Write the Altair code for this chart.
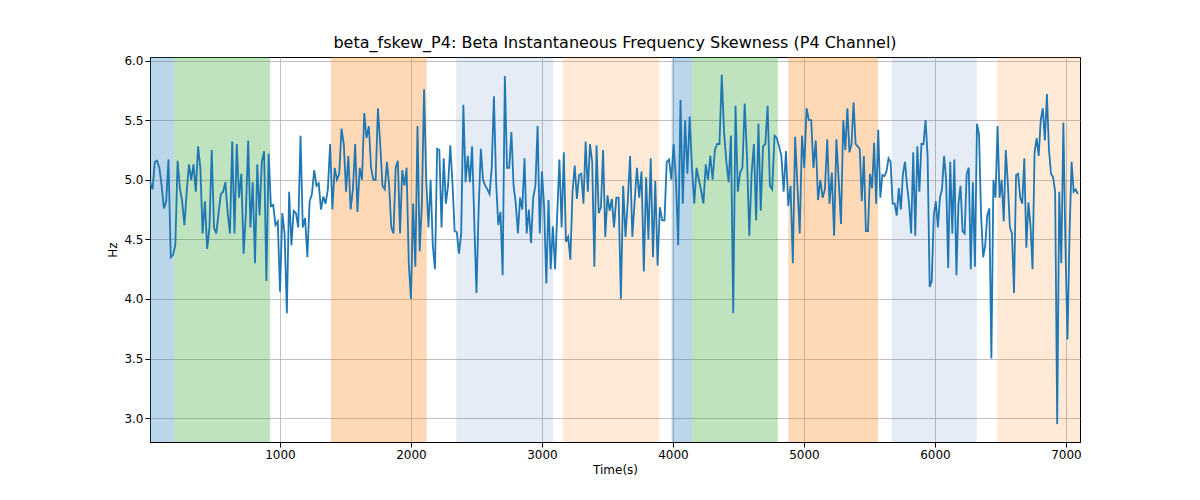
import altair as alt
import numpy as np
import pandas as pd

# signal, in four stretches of time
seg1 = [4.98, 4.92, 5.15, 5.16, 5.1, 4.95, 4.76, 4.82, 5.17, 4.35, 4.37, 4.45, 5.16, 4.93, 4.82, 4.62, 4.9, 5.13, 5.0, 5.13,
        4.9, 5.28, 5.1, 4.55, 4.82, 4.42, 4.6, 5.25, 4.6, 4.55, 4.72, 4.88, 4.9, 4.98, 4.72, 4.55, 5.32, 4.55, 5.3, 4.85,
        5.05, 4.38, 4.72, 5.33, 4.6, 4.98, 4.3, 5.13, 4.7, 5.15, 5.24, 4.15, 5.22, 4.78, 4.79, 4.62, 4.65, 4.06, 4.72, 4.55,
        3.88, 4.9, 4.45, 4.74, 4.72, 4.6, 5.37, 4.6, 4.68, 4.35, 4.82, 4.88, 5.08, 4.95, 4.97, 4.75, 4.86, 4.8, 4.92, 5.3,
        4.75, 5.1, 5.0, 5.05, 5.43, 5.3, 4.9, 5.2, 4.75, 4.92, 5.3, 4.73, 5.1, 5.0, 5.56, 5.35, 5.45, 5.1, 5.0, 5.0, 5.6, 5.3, 4.95]
seg2 = [4.92, 5.15, 4.95, 4.6, 4.55, 5.1, 5.16, 4.55, 5.08, 4.95, 5.1, 4.3, 4.0, 4.8, 4.27, 5.45, 4.4, 4.8, 5.76, 5.0,
        4.6, 5.0, 4.45, 4.25, 5.26, 5.25, 4.6, 5.18, 4.8, 4.95, 5.29, 4.98, 4.57, 4.56, 4.38, 4.55, 5.63, 4.98, 5.2, 4.98,
        5.28, 4.65, 4.05, 4.75, 5.26, 5.0, 4.95, 4.92, 4.88, 5.1, 5.7, 4.98, 4.62, 4.73, 4.2, 5.87, 5.1, 5.1, 5.4, 4.95,
        4.8, 4.55, 4.85, 4.75, 5.18, 4.55, 4.75, 4.47, 4.85, 4.95, 5.45, 4.55, 5.07, 4.77, 4.13, 4.83, 4.25, 4.61, 4.25, 4.72,
        5.17, 4.6, 5.23, 4.48, 4.52, 4.33, 4.9, 5.12, 4.84, 5.04, 5.05, 4.8, 5.32, 4.9, 5.3, 5.15, 4.27, 5.29, 4.72, 4.77,
        5.25, 4.52, 4.87, 4.74, 4.84]
seg3 = [4.6, 4.85, 4.85, 4.0, 4.95, 4.52, 4.82, 5.2, 4.52, 4.82, 5.1, 4.85, 5.07, 4.23, 5.02, 4.5, 5.18, 4.35, 4.99, 4.28,
        4.77, 4.66, 4.66, 5.15, 5.17, 5.0, 5.3, 5.0, 4.45, 5.67, 4.8, 5.5, 5.05, 5.53, 5.1, 4.8, 5.1, 5.0, 4.91, 4.8,
        5.13, 5.0, 5.2, 5.0, 5.25, 5.3, 5.3, 5.88, 5.4, 5.15, 4.98, 5.37, 3.88, 5.62, 4.9, 5.06, 5.1, 5.64, 5.2, 4.53,
        5.05, 5.3, 4.66, 5.47, 4.74, 5.28, 5.3, 5.62, 4.95, 4.92, 5.37, 5.35, 5.28, 5.2, 4.9, 5.24, 4.78, 4.95, 4.3, 5.36,
        4.95, 4.55, 5.37, 5.1, 5.6, 5.5, 5.5, 5.1, 5.33, 4.83, 5.0, 4.85, 4.92, 5.34, 4.8, 5.06, 4.53, 5.34, 5.0, 4.63]
seg4 = [5.5, 5.25, 5.6, 5.23, 5.3, 5.65, 5.3, 5.28, 5.26, 4.82, 5.2, 4.57, 4.57, 5.05, 4.93, 5.31, 4.8, 5.42, 4.85, 5.04,
        5.03, 5.07, 5.18, 5.15, 4.8, 4.8, 4.7, 4.93, 4.75, 5.05, 5.15, 4.95, 4.8, 4.55, 5.23, 4.53, 5.28, 4.9, 5.3, 5.3,
        5.5, 5.2, 4.1, 4.15, 4.7, 4.82, 4.6, 4.85, 4.92, 5.2, 5.0, 4.26, 5.15, 4.55, 5.17, 4.2, 4.8, 4.95, 4.57, 4.55,
        5.05, 5.1, 4.25, 4.98, 4.27, 5.47, 5.38, 4.7, 4.35, 4.45, 4.7, 4.76, 3.5, 5.0, 4.85, 5.45, 4.85, 5.0, 4.65, 5.25,
        4.97, 4.6, 4.55, 4.05, 5.04, 5.05, 4.85, 4.8, 5.18, 4.43, 4.81, 4.62, 4.25, 5.23, 5.35, 5.2, 5.5, 5.6, 5.33, 5.72,
        5.25, 5.05, 5.02, 4.9, 2.95, 4.9, 4.3, 5.48, 4.45, 3.66, 4.55, 5.15, 4.9, 4.92, 4.88]
seg_bounds = [10, 1800, 3550, 5300, 7090]

# shaded phases
span_start = [8, 190, 1390, 2345, 3160, 3990, 4145, 4880, 5670, 6475]
span_end = [190, 925, 2120, 3085, 3895, 4145, 4800, 5565, 6320, 7107]
span_color = ["#1f77b4", "#2ca02c", "#ff7f0e", "#4a78c0", "#ff7f0e",
              "#1f77b4", "#2ca02c", "#ff7f0e", "#4a78c0", "#ff7f0e"]
span_alpha = [0.3, 0.3, 0.3, 0.14, 0.16, 0.3, 0.3, 0.3, 0.14, 0.16]

times, vals = [], []
for i, seg in enumerate([seg1, seg2, seg3, seg4]):
    t = np.linspace(seg_bounds[i], seg_bounds[i + 1], len(seg), endpoint=(i == 3))
    times.extend(t)
    vals.extend(seg)
line_df = pd.DataFrame({"t": times, "v": vals})
span_df = pd.DataFrame({"s": span_start, "e": span_end, "c": span_color, "a": span_alpha})

xs = alt.Scale(domain=[8, 7107], nice=False, zero=False)
ys = alt.Scale(domain=[2.8, 6.03], nice=False, zero=False)

spans = alt.Chart(span_df).mark_rect().encode(
    x=alt.X("s:Q", scale=xs, title="Time(s)",
            axis=alt.Axis(values=list(range(1000, 8000, 1000)), format="d")),
    x2="e:Q",
    color=alt.Color("c:N", scale=None),
    opacity=alt.Opacity("a:Q", scale=None),
)

line = alt.Chart(line_df).mark_line(color="#1f77b4", strokeWidth=1.8).encode(
    x=alt.X("t:Q", scale=xs),
    y=alt.Y("v:Q", scale=ys, title="Hz",
            axis=alt.Axis(values=[3.0, 3.5, 4.0, 4.5, 5.0, 5.5, 6.0], format=".1f")),
)

chart = (spans + line).properties(
    width=930, height=385,
    padding={"left": 98, "top": 26, "right": 10, "bottom": 10},
    title=alt.Title("beta_fskew_P4: Beta Instantaneous Frequency Skewness (P4 Channel)",
                    fontSize=16, fontWeight="normal", font="DejaVu Sans"),
).configure_axis(
    grid=True, gridColor="#b0b0b0", gridOpacity=0.8,
    domainColor="black", tickColor="black",
    labelFont="DejaVu Sans", titleFont="DejaVu Sans",
    labelFontSize=12, titleFontSize=12, titleFontWeight="normal", labelColor="black",
).configure_view(stroke="black")

chart.save("out.html", embed_options={"renderer": "svg", "actions": False})
